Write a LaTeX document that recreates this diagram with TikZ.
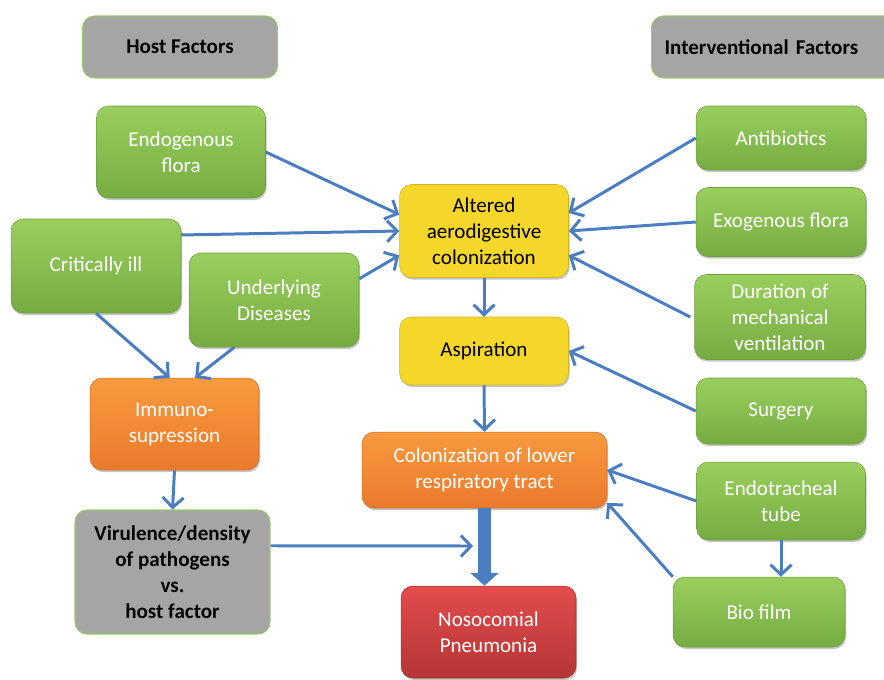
\documentclass[tikz,border=0pt]{standalone}
\usepackage{fontspec}
\setmainfont{Carlito}
\usetikzlibrary{arrows.meta,shadows,calc}
\definecolor{arrowblue}{HTML}{4A7EC0}
\definecolor{greentop}{HTML}{9ACF5E}
\definecolor{greenbot}{HTML}{76AB42}
\definecolor{greenline}{HTML}{6E9E3E}
\definecolor{yellowfill}{HTML}{F5D62A}
\definecolor{orangetop}{HTML}{F89A3E}
\definecolor{orangebot}{HTML}{EA7A2C}
\definecolor{redtop}{HTML}{E34C4C}
\definecolor{redbot}{HTML}{B53535}
\definecolor{grayfill}{HTML}{A5A5A5}
\definecolor{grayline}{HTML}{9CC96C}
\begin{document}
\begin{tikzpicture}[x=0.02cm,y=-0.02cm,
  factor/.style={rounded corners=0.24cm,align=center,inner sep=2pt,font=\fontsize{12}{14.8}\selectfont,drop shadow={shadow xshift=0.6pt,shadow yshift=-1.2pt,opacity=0.45}},
  greenbox/.style={factor,top color=greentop,bottom color=greenbot,draw=greenline,line width=0.3pt,text=white},
  yellowbox/.style={factor,fill=yellowfill,draw=yellowfill!85!black,line width=0.3pt,text=black},
  orangebox/.style={factor,top color=orangetop,bottom color=orangebot,draw=orangebot!90!black,line width=0.3pt,text=white},
  redbox/.style={factor,top color=redtop,bottom color=redbot,draw=redbot!90!black,line width=0.3pt,text=white},
  graybox/.style={rounded corners=0.24cm,align=center,inner sep=2pt,fill=grayfill,draw=grayline,line width=0.6pt,text=black,font=\fontsize{12}{14.8}\selectfont\bfseries},
  link/.style={draw=arrowblue,line width=1.7pt,-{Straight Barb[length=0.2cm,width=0.42cm,line width=1.7pt]}},
  fatlink/.style={draw=arrowblue,line width=0.26cm,-{Triangle[length=0.26cm,width=0.56cm]}}]
\useasboundingbox (0,0) rectangle (884,679);
\node[graybox,minimum width=3.9cm,minimum height=1.24cm] (host) at (180,47) {Host Factors};
\node[graybox,anchor=west,text width=4.72cm,inner xsep=0.26cm,align=left,minimum height=1.24cm] (interv) at (651,47) {Interventional Factors};
\node[greenbox,minimum width=3.38cm,minimum height=1.84cm] (endo) at (181,152) {Endogenous\\flora};
\node[greenbox,minimum width=3.4cm,minimum height=1.88cm] (crit) at (96,266) {Critically ill};
\node[greenbox,minimum width=3.4cm,minimum height=1.88cm] (under) at (274,300) {Underlying\\Diseases};
\node[yellowbox,minimum width=3.38cm,minimum height=1.86cm] (altered) at (484,231) {Altered\\aerodigestive\\colonization};
\node[greenbox,minimum width=3.4cm,minimum height=1.28cm] (antib) at (781,138) {Antibiotics};
\node[greenbox,minimum width=3.4cm,minimum height=1.38cm] (exo) at (781,222) {Exogenous flora};
\node[greenbox,minimum width=3.42cm,minimum height=1.7cm] (dur) at (780,317) {Duration of\\mechanical\\ventilation};
\node[yellowbox,minimum width=3.38cm,minimum height=1.36cm] (aspir) at (484,351) {Aspiration};
\node[greenbox,minimum width=3.4cm,minimum height=1.32cm] (surg) at (781,411) {Surgery};
\node[orangebox,minimum width=3.38cm,minimum height=1.84cm] (immuno) at (174.5,424) {Immuno-\\supression};
\node[orangebox,minimum width=4.9cm,minimum height=1.52cm] (colon) at (484.5,470) {Colonization of lower\\respiratory tract};
\node[greenbox,minimum width=3.38cm,minimum height=1.56cm] (endot) at (781,501) {Endotracheal\\tube};
\node[graybox,minimum width=3.9cm,minimum height=2.48cm] (virul) at (172.5,572) {Virulence/density\\of pathogens\\vs.\\host factor};
\node[greenbox,minimum width=3.44cm,minimum height=1.4cm] (biofilm) at (759,612) {Bio film};
\node[redbox,minimum width=3.5cm,minimum height=1.84cm] (noso) at (488.5,632) {Nosocomial\\Pneumonia};
\coordinate (join) at (473,546);
\draw[link] (endo.east) -- (altered.169);
\draw[link] (crit.20) -- (altered.west);
\draw[link] (under.14) -- (altered.196);
\draw[link] (antib.west) -- (altered.12);
\draw[link] (exo.west) -- (altered.east);
\draw[link] ([xshift=-0.08cm]dur.west) -- (altered.344);
\draw[link] (altered.south) -- (aspir.north);
\draw[link] (surg.west) -- (aspir.east);
\draw[link] (aspir.south) -- (colon.north);
\draw[link] (endot.west) -- (colon.east);
\draw[link] (biofilm.north west) -- (colon.345);
\draw[link] (endot.south) -- (endot.south |- biofilm.north);
\draw[link] (crit.south) -- (immuno.96);
\draw[link] (under.230) -- (immuno.66);
\draw[link] (immuno.south) -- (virul.north);
\draw[fatlink] (colon.south) -- (colon.south |- noso.north);
\draw[link] (virul.15) -- (join);
\end{tikzpicture}
\end{document}
